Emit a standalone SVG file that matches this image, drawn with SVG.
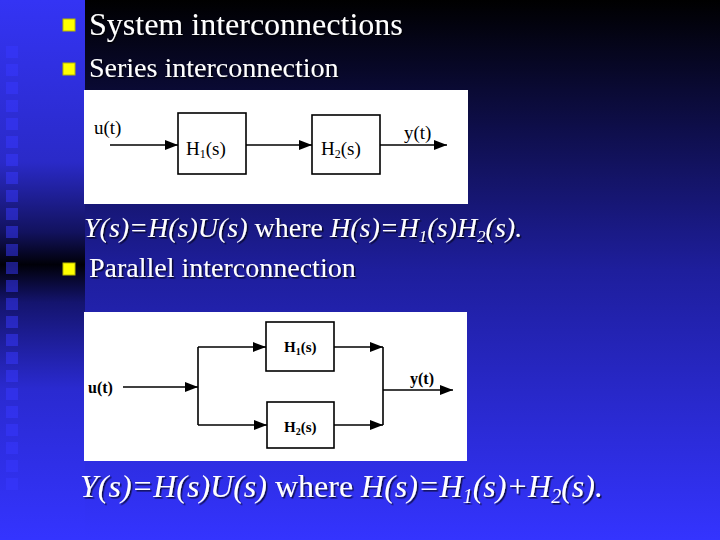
<svg xmlns="http://www.w3.org/2000/svg" width="720" height="540" viewBox="0 0 720 540">
<defs>
<linearGradient id="bgMain" x1="0" y1="0" x2="0" y2="1">
<stop offset="0" stop-color="#000000"/>
<stop offset="0.5" stop-color="#1e1e9c"/>
<stop offset="1" stop-color="#3434ff"/>
</linearGradient>
<linearGradient id="bgLeft" x1="0" y1="0" x2="0" y2="1">
<stop offset="0" stop-color="#3434f4"/>
<stop offset="0.3" stop-color="#2a2ac8"/>
<stop offset="0.43" stop-color="#12125e"/>
<stop offset="0.49" stop-color="#000008"/>
<stop offset="0.56" stop-color="#14146e"/>
<stop offset="0.72" stop-color="#2a2ad0"/>
<stop offset="1" stop-color="#3434ff"/>
</linearGradient>
<filter id="shadow" x="-5%" y="-20%" width="110%" height="150%">
<feDropShadow dx="1.5" dy="1.5" stdDeviation="0.4" flood-color="#000000" flood-opacity="0.7"/>
</filter>
<marker id="arrow" markerUnits="userSpaceOnUse" markerWidth="13" markerHeight="10" refX="13" refY="5" orient="auto">
<path d="M0,0 L13,5 L0,10 z" fill="#000"/>
</marker>
</defs>
<style>
.slide{font-family:"Liberation Serif","Times New Roman",serif;fill:#ffffff;filter:url(#shadow)}
.it{font-style:italic}
.up{font-style:normal}
.bullet{fill:#ffff00;stroke:#b8b800;stroke-width:1}
.sq{fill:#3838ff;opacity:0.5}
.panel{fill:#ffffff}
.box{fill:#ffffff;stroke:#000;stroke-width:1.6}
.lbl{font-family:"Liberation Serif","Times New Roman",serif;fill:#000}
.conn{stroke:#000;stroke-width:1.6;fill:none}
.arr{marker-end:url(#arrow)}
</style>

<!-- background -->
<rect x="0" y="0" width="720" height="540" fill="url(#bgMain)"/>
<rect x="0" y="0" width="85" height="540" fill="url(#bgLeft)"/>
<g id="squares">
<rect class="sq" x="6" y="46" width="12" height="12"/>
<rect class="sq" x="6" y="64" width="12" height="12"/>
<rect class="sq" x="6" y="82" width="12" height="12"/>
<rect class="sq" x="6" y="100" width="12" height="12"/>
<rect class="sq" x="6" y="118" width="12" height="12"/>
<rect class="sq" x="6" y="136" width="12" height="12"/>
<rect class="sq" x="6" y="154" width="12" height="12"/>
<rect class="sq" x="6" y="172" width="12" height="12"/>
<rect class="sq" x="6" y="190" width="12" height="12"/>
<rect class="sq" x="6" y="208" width="12" height="12"/>
<rect class="sq" x="6" y="226" width="12" height="12"/>
<rect class="sq" x="6" y="244" width="12" height="12"/>
<rect class="sq" x="6" y="262" width="12" height="12"/>
<rect class="sq" x="6" y="280" width="12" height="12"/>
<rect class="sq" x="6" y="298" width="12" height="12"/>
<rect class="sq" x="6" y="316" width="12" height="12"/>
<rect class="sq" x="6" y="334" width="12" height="12"/>
<rect class="sq" x="6" y="352" width="12" height="12"/>
<rect class="sq" x="6" y="370" width="12" height="12"/>
<rect class="sq" x="6" y="388" width="12" height="12"/>
<rect class="sq" x="6" y="406" width="12" height="12"/>
<rect class="sq" x="6" y="424" width="12" height="12"/>
<rect class="sq" x="6" y="442" width="12" height="12"/>
<rect class="sq" x="6" y="460" width="12" height="12"/>
<rect class="sq" x="6" y="478" width="12" height="12"/>
</g>

<!-- bullets and text -->
<g id="bullet-title">
<rect class="bullet" x="63" y="19" width="12" height="12"/>
<text class="slide" x="89" y="35" font-size="32">System interconnections</text>
</g>
<g id="bullet-series">
<rect class="bullet" x="63" y="63" width="12" height="12"/>
<text class="slide" x="89" y="77" font-size="28">Series interconnection</text>
</g>
<g id="eq-series">
<text class="slide it" x="84" y="237" font-size="28">Y(s)=H(s)U(s) <tspan class="up">where</tspan> H(s)=H<tspan font-size="17" dy="5">1</tspan><tspan dy="-5">(s)H</tspan><tspan font-size="17" dy="5">2</tspan><tspan dy="-5">(s).</tspan></text>
</g>
<g id="bullet-parallel">
<rect class="bullet" x="63" y="263" width="12" height="12"/>
<text class="slide" x="89" y="277" font-size="28">Parallel interconnection</text>
</g>
<g id="eq-parallel">
<text class="slide it" x="80" y="497" font-size="32">Y(s)=H(s)U(s) <tspan class="up">where</tspan> H(s)=H<tspan font-size="20" dy="6">1</tspan><tspan dy="-6">(s)+H</tspan><tspan font-size="20" dy="6">2</tspan><tspan dy="-6">(s).</tspan></text>
</g>

<!-- series diagram -->
<g id="series-panel">
<rect class="panel" x="84" y="90" width="384" height="114"/>
<text class="lbl" x="94" y="134" font-size="19">u(t)</text>
<text class="lbl" x="404" y="139" font-size="19">y(t)</text>
</g>
<g id="series-H1">
<rect class="box" x="178" y="113" width="68" height="61"/>
<text class="lbl" x="186" y="155" font-size="19">H<tspan font-size="12" dy="3">1</tspan><tspan dy="-3">(s)</tspan></text>
</g>
<g id="series-H2">
<rect class="box" x="312" y="115" width="68" height="59"/>
<text class="lbl" x="321" y="155" font-size="19">H<tspan font-size="12" dy="3">2</tspan><tspan dy="-3">(s)</tspan></text>
</g>

<!-- parallel diagram -->
<g id="parallel-panel">
<rect class="panel" x="84" y="312" width="383" height="149"/>
<text class="lbl" x="88" y="393" font-size="16" font-weight="bold">u(t)</text>
<text class="lbl" x="410" y="384" font-size="16" font-weight="bold">y(t)</text>
</g>
<g id="parallel-H1">
<rect class="box" x="266" y="322" width="68" height="49"/>
<text class="lbl" x="284" y="352" font-size="15" font-weight="bold">H<tspan font-size="10" dy="3">1</tspan><tspan dy="-3">(s)</tspan></text>
</g>
<g id="parallel-H2">
<rect class="box" x="267" y="402" width="67" height="46"/>
<text class="lbl" x="284" y="432" font-size="15" font-weight="bold">H<tspan font-size="10" dy="3">2</tspan><tspan dy="-3">(s)</tspan></text>
</g>

<g id="connectors">
<path class="conn arr" d="M110,145 H178"/>
<path class="conn arr" d="M246,145 H312"/>
<path class="conn arr" d="M380,145 H447"/>
<path class="conn arr" d="M123,387 H198"/>
<path class="conn" d="M198,347 V425"/>
<path class="conn arr" d="M198,347 H266"/>
<path class="conn arr" d="M198,425 H267"/>
<path class="conn arr" d="M334,347 H383"/>
<path class="conn arr" d="M334,425 H383"/>
<path class="conn" d="M383,347 V425"/>
<path class="conn arr" d="M383,390 H453"/>
</g>
</svg>
